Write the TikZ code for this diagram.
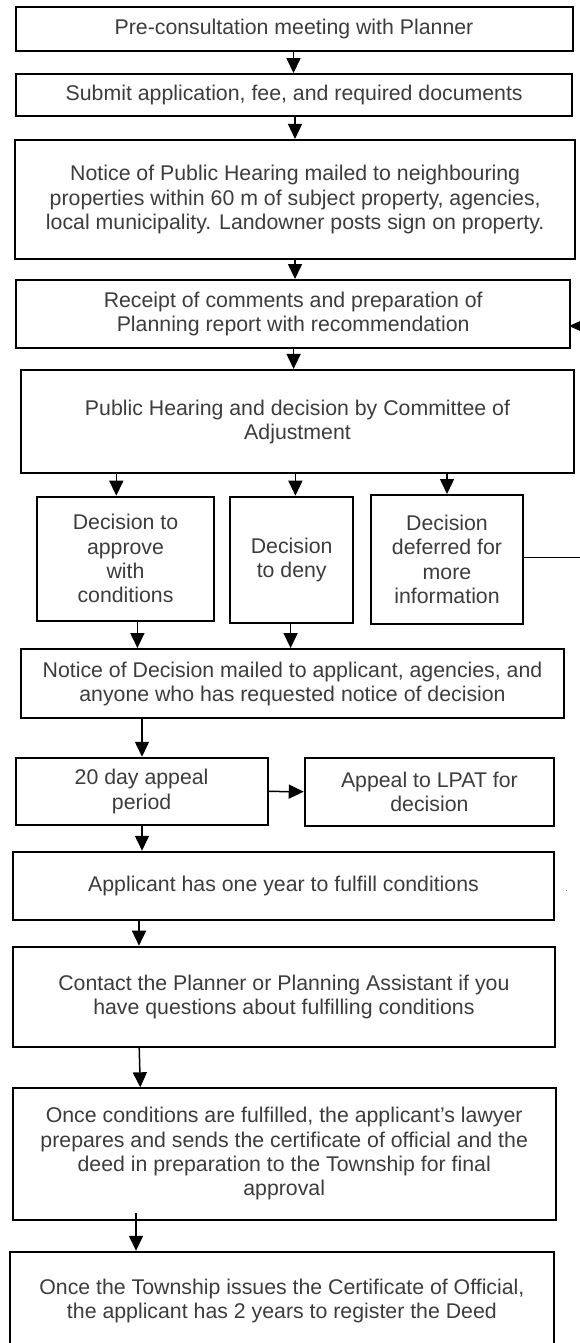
\documentclass[tikz,border=0pt]{standalone}
\usepackage{fontspec}
\setmainfont{Liberation Sans}
\usetikzlibrary{arrows.meta}
\definecolor{texto}{HTML}{3C3C3C}

\begin{document}
\begin{tikzpicture}[
            x=1pt, y=-1pt,
            caixa/.style={shape=rectangle, draw=black, line width=2pt, text=texto, align=center, inner sep=0pt,
                          font=\fontsize{21.3}{24.3}\selectfont},
            seta/.style={line width=1.5pt, -{Triangle[length=15pt, width=14pt]}},
            retorno/.style={line width=1pt, -{Triangle[length=15pt, width=13pt]}},
        ]
        \useasboundingbox (0,0) rectangle (579,1343);

        \node[caixa, minimum width=557pt, minimum height=43.4pt] (pre) at (294, 29) {Pre-consultation meeting with Planner};
        \node[caixa, minimum width=556.4pt, minimum height=41.7pt] (submit) at (294.2, 94.9) {Submit application, fee, and required documents};
        \node[caixa, minimum width=559.5pt, minimum height=119.3pt] (notice) at (295.2, 199.6) {Notice of Public Hearing mailed to neighbouring\\properties within 60 m of subject property, agencies,\\local municipality. Landowner posts sign on property.};
        \node[caixa, minimum width=554.5pt, minimum height=68.3pt] (receipt) at (293.2, 314.2) {Receipt of comments and preparation of\\Planning report with recommendation};
        \node[caixa, minimum width=553pt, minimum height=103.5pt] (hearing) at (297.5, 421.7) {Public Hearing and decision by Committee of\\Adjustment};
        \node[caixa, minimum width=177pt, minimum height=124pt] (approve) at (125.5, 558.7) {Decision to\\approve\\with\\conditions};
        \node[caixa, minimum width=123.4pt, minimum height=126.6pt] (deny) at (291.7, 560) {Decision\\to deny};
        \node[caixa, minimum width=152pt, minimum height=129pt] (defer) at (447, 559.5) {Decision\\deferred for\\more\\information};
        \node[caixa, minimum width=543pt, minimum height=69.3pt] (mailed) at (292.5, 683.7) {Notice of Decision mailed to applicant, agencies, and\\anyone who has requested notice of decision};
        \node[caixa, minimum width=252.2pt, minimum height=67.3pt] (period) at (141.6, 791.4) {20 day appeal\\period};
        \node[caixa, minimum width=249.3pt, minimum height=68pt] (lpat) at (429.4, 791.7) {Appeal to LPAT for\\decision};
        \node[caixa, minimum width=541pt, minimum height=68.3pt] (fulfill) at (283.5, 885.9) {Applicant has one year to fulfill conditions};
        \node[text=texto, font=\fontsize{8}{9}\selectfont, inner sep=0pt] (dot) at (566.7, 891) {.};
        \node[caixa, minimum width=541.7pt, minimum height=100pt] (contact) at (283.9, 996.7) {Contact the Planner or Planning Assistant if you\\have questions about fulfilling conditions};
        \node[caixa, minimum width=543.3pt, minimum height=131.2pt] (lawyer) at (284.2, 1153.9) {Once conditions are fulfilled, the applicant’s lawyer\\prepares and sends the certificate of official and the\\deed in preparation to the Township for final\\approval};
        \node[caixa, minimum width=543.2pt, minimum height=98pt] (final) at (281.9, 1300.8) {Once the Township issues the Certificate of Official,\\the applicant has 2 years to register the Deed};

        \coordinate (volta) at (584, 557);

        \draw[seta] (293.5,0 |- pre.south) -- (293.5,0 |- submit.north);
        \draw[seta] (295,0 |- submit.south) -- (295,0 |- notice.north);
        \draw[seta] (295,0 |- notice.south) -- (295,0 |- receipt.north);
        \draw[seta] (293.6,0 |- receipt.south) -- (293.6,0 |- hearing.north);
        \draw[seta] (116.3,0 |- hearing.south) -- (116.3,0 |- approve.north);
        \draw[seta] (295.4,0 |- hearing.south) -- (295.4,0 |- deny.north);
        \draw[seta] (447,0 |- hearing.south) -- (447,0 |- defer.north);
        \draw[seta] (137.4,0 |- approve.south) -- (137.4,0 |- mailed.north);
        \draw[seta] (290.6,0 |- deny.south) -- (290.6,0 |- mailed.north);
        \draw[seta] (142,0 |- mailed.south) -- (142,0 |- period.north);
        \draw[seta] (period.east) -- (lpat.west);
        \draw[seta] (142,0 |- period.south) -- (142,0 |- fulfill.north);
        \draw[seta] (139,0 |- fulfill.south) -- (139,0 |- contact.north);
        \draw[seta] (139.2,0 |- contact.south) -- (140.3,0 |- lawyer.north);
        \draw[seta] ([yshift=8pt]136,0 |- lawyer.south) -- (136,0 |- final.north);
        \draw[retorno] ([yshift=2.5pt]defer.east) -- (volta) |- ([xshift=-2.5pt, yshift=-11.8pt]receipt.east);

    \end{tikzpicture}
\end{document}
